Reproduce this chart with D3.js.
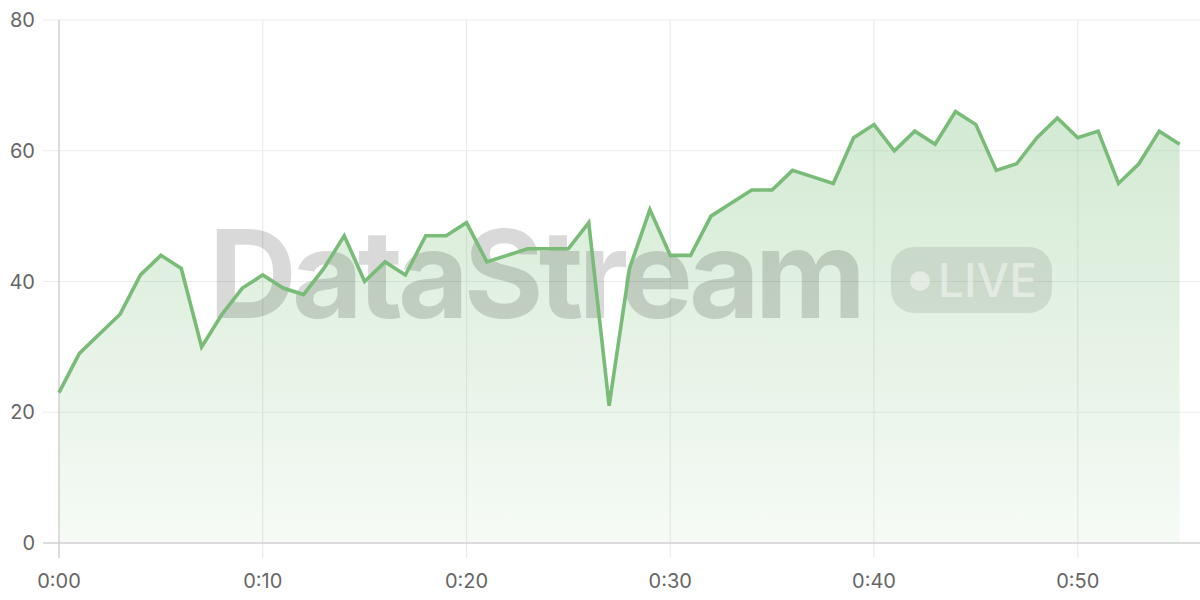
<!DOCTYPE html>
<html>
<head>
<meta charset="utf-8">
<script src="https://cdn.jsdelivr.net/npm/d3@7"></script>
<style>
  html, body { margin: 0; padding: 0; background: #fff; }
  svg { display: block; font-family: Inter, "Noto Sans", sans-serif; }
</style>
</head>
<body>
<div id="chart"></div>
<script>
// minutes since start, one reading per minute
const minutes = d3.range(0, 56);
const values = [
  23, 29, 32, 35, 41, 44, 42, 30, 35, 39,
  41, 39, 38, 42, 47, 40, 43, 41, 47, 47,
  49, 43, 44, 45, 45, 45, 49, 21, 42, 51,
  44, 44, 50, 52, 54, 54, 57, 56, 55, 62,
  64, 60, 63, 61, 66, 64, 57, 58, 62, 65,
  62, 63, 55, 58, 63, 61
];
const xTicks = [0, 10, 20, 30, 40, 50];
const yTicks = [0, 20, 40, 60, 80];

const width = 1200, height = 600;
const margin = { top: 20, right: 0, bottom: 57, left: 59 };

const svg = d3.select("#chart")
  .append("svg")
  .attr("width", width)
  .attr("height", height);

const x = d3.scaleLinear()
  .domain([0, 56])
  .range([margin.left, width - margin.right]);

const y = d3.scaleLinear()
  .domain([0, 80])
  .range([height - margin.bottom, margin.top]);

const data = minutes.map((m, i) => ({ m, v: values[i] }));

// gradient for area
const defs = svg.append("defs");
const grad = defs.append("linearGradient")
  .attr("id", "areaGrad")
  .attr("gradientUnits", "userSpaceOnUse")
  .attr("x1", 0).attr("x2", 0)
  .attr("y1", y(66)).attr("y2", y(0));
grad.append("stop").attr("offset", 0).attr("stop-color", "#7dbf7d").attr("stop-opacity", 0.34);
grad.append("stop").attr("offset", 1).attr("stop-color", "#7dbf7d").attr("stop-opacity", 0.07);

// grid lines
svg.append("g")
  .selectAll("line")
  .data(yTicks.filter(d => d > 0))
  .join("line")
  .attr("x1", margin.left - 16)
  .attr("x2", width)
  .attr("y1", d => y(d))
  .attr("y2", d => y(d))
  .attr("stroke", "#ececec")
  .attr("stroke-width", 1.2);

svg.append("g")
  .selectAll("line")
  .data(xTicks.filter(d => d > 0))
  .join("line")
  .attr("x1", d => x(d))
  .attr("x2", d => x(d))
  .attr("y1", margin.top)
  .attr("y2", y(0) + 15)
  .attr("stroke", "#ececec")
  .attr("stroke-width", 1.2);

// area
const area = d3.area()
  .x(d => x(d.m))
  .y0(y(0))
  .y1(d => y(d.v));

svg.append("path")
  .datum(data)
  .attr("d", area)
  .attr("fill", "url(#areaGrad)");

// watermark
const wm = svg.append("g").attr("pointer-events", "none");
wm.append("text")
  .attr("x", 535)
  .attr("y", 318)
  .attr("text-anchor", "middle")
  .attr("font-size", 122)
  .attr("font-weight", 700)
  .attr("letter-spacing", -5)
  .attr("fill", "rgba(0,0,0,0.15)")
  .text("DataStream");

wm.append("rect")
  .attr("x", 891)
  .attr("y", 247)
  .attr("width", 161)
  .attr("height", 66)
  .attr("rx", 23)
  .attr("fill", "rgba(0,0,0,0.09)");
wm.append("circle")
  .attr("cx", 920)
  .attr("cy", 281)
  .attr("r", 10)
  .attr("fill", "rgba(255,255,255,0.45)");
wm.append("text")
  .attr("x", 938)
  .attr("y", 297)
  .attr("font-size", 46)
  .attr("font-weight", 500)
  .attr("fill", "rgba(255,255,255,0.45)")
  .text("LIVE");

// axes lines
svg.append("line")
  .attr("x1", margin.left - 16)
  .attr("x2", width)
  .attr("y1", y(0))
  .attr("y2", y(0))
  .attr("stroke", "#d0d0d0")
  .attr("stroke-width", 1.5);

svg.append("line")
  .attr("x1", x(0))
  .attr("x2", x(0))
  .attr("y1", margin.top)
  .attr("y2", y(0) + 15)
  .attr("stroke", "#d0d0d0")
  .attr("stroke-width", 1.5);

// line
const line = d3.line()
  .x(d => x(d.m))
  .y(d => y(d.v));

svg.append("path")
  .datum(data)
  .attr("d", line)
  .attr("fill", "none")
  .attr("stroke", "#78bc78")
  .attr("stroke-width", 3.6)
  .attr("stroke-linejoin", "miter");

// tick labels
svg.append("g")
  .selectAll("text")
  .data(yTicks)
  .join("text")
  .attr("x", margin.left - 24)
  .attr("y", d => y(d))
  .attr("dy", "0.35em")
  .attr("text-anchor", "end")
  .attr("font-size", 20)
  .attr("fill", "#666")
  .text(d => d);

svg.append("g")
  .selectAll("text")
  .data(xTicks)
  .join("text")
  .attr("x", d => x(d))
  .attr("y", 588)
  .attr("text-anchor", "middle")
  .attr("font-size", 20)
  .attr("fill", "#666")
  .text(d => "0:" + String(d).padStart(2, "0"));
</script>
</body>
</html>
